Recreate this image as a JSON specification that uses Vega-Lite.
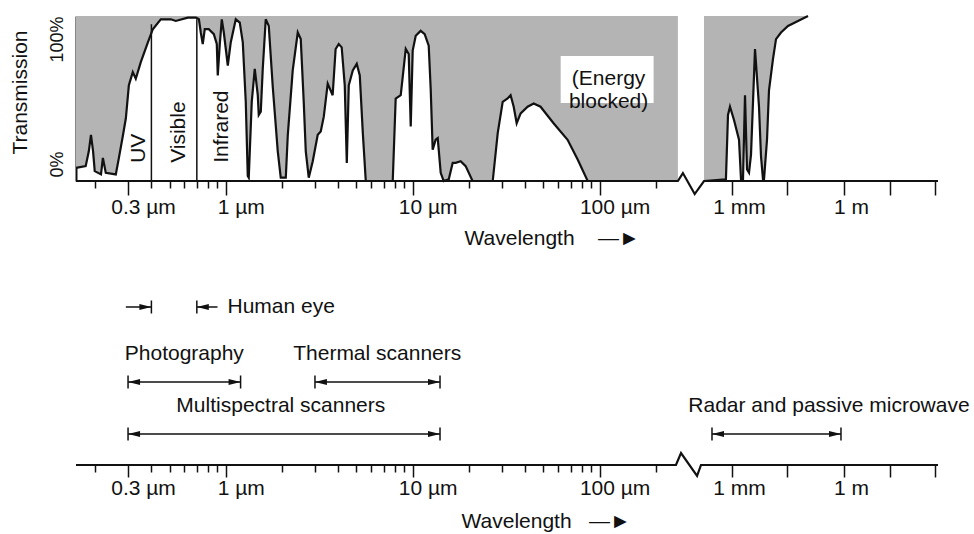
{
  "$schema": "https://vega.github.io/schema/vega-lite/v6.json",
  "padding": {"left": 9, "top": 11, "right": 5, "bottom": 5},
  "bounds": "flush",
  "spacing": 20,
  "background": "white",
  "config": {
    "font": "Liberation Sans",
    "view": {"stroke": null},
    "axis": {"grid": false, "labelColor": "#111", "titleColor": "#111", "titleFontWeight": "normal", "labelFont": "Liberation Sans", "titleFont": "Liberation Sans"},
    "text": {"font": "Liberation Sans", "fontSize": 21, "color": "#111"}
  },
  "resolve": {"scale": {"x": "independent"}},
  "datasets": {
    "curve": [
      {"seg": "a", "wl": 0.158, "t": 8}, {"seg": "a", "wl": 0.178, "t": 9}, {"seg": "a", "wl": 0.185, "t": 18}, {"seg": "a", "wl": 0.19, "t": 28},
      {"seg": "a", "wl": 0.195, "t": 18}, {"seg": "a", "wl": 0.199, "t": 6}, {"seg": "a", "wl": 0.215, "t": 4}, {"seg": "a", "wl": 0.22, "t": 14},
      {"seg": "a", "wl": 0.228, "t": 5}, {"seg": "a", "wl": 0.258, "t": 4}, {"seg": "a", "wl": 0.268, "t": 14}, {"seg": "a", "wl": 0.281, "t": 27},
      {"seg": "a", "wl": 0.292, "t": 38}, {"seg": "a", "wl": 0.303, "t": 58}, {"seg": "a", "wl": 0.318, "t": 66}, {"seg": "a", "wl": 0.33, "t": 62},
      {"seg": "a", "wl": 0.351, "t": 72}, {"seg": "a", "wl": 0.383, "t": 84}, {"seg": "a", "wl": 0.407, "t": 92}, {"seg": "a", "wl": 0.449, "t": 98},
      {"seg": "a", "wl": 0.508, "t": 98}, {"seg": "a", "wl": 0.54, "t": 97}, {"seg": "a", "wl": 0.626, "t": 99}, {"seg": "a", "wl": 0.692, "t": 99},
      {"seg": "a", "wl": 0.718, "t": 98}, {"seg": "a", "wl": 0.735, "t": 90}, {"seg": "a", "wl": 0.753, "t": 83}, {"seg": "a", "wl": 0.772, "t": 92},
      {"seg": "a", "wl": 0.811, "t": 92}, {"seg": "a", "wl": 0.863, "t": 89}, {"seg": "a", "wl": 0.895, "t": 83}, {"seg": "a", "wl": 0.906, "t": 64},
      {"seg": "a", "wl": 0.929, "t": 83}, {"seg": "a", "wl": 0.952, "t": 98}, {"seg": "a", "wl": 0.976, "t": 90}, {"seg": "a", "wl": 1.025, "t": 70},
      {"seg": "a", "wl": 1.063, "t": 84}, {"seg": "a", "wl": 1.131, "t": 98}, {"seg": "a", "wl": 1.188, "t": 96}, {"seg": "a", "wl": 1.233, "t": 84},
      {"seg": "a", "wl": 1.279, "t": 48}, {"seg": "a", "wl": 1.311, "t": 3}, {"seg": "a", "wl": 1.327, "t": 2}, {"seg": "a", "wl": 1.377, "t": 48},
      {"seg": "a", "wl": 1.429, "t": 68}, {"seg": "a", "wl": 1.483, "t": 52}, {"seg": "a", "wl": 1.501, "t": 40}, {"seg": "a", "wl": 1.539, "t": 42},
      {"seg": "a", "wl": 1.577, "t": 68}, {"seg": "a", "wl": 1.636, "t": 98}, {"seg": "a", "wl": 1.698, "t": 94}, {"seg": "a", "wl": 1.784, "t": 57},
      {"seg": "a", "wl": 1.897, "t": 18}, {"seg": "a", "wl": 1.968, "t": 2}, {"seg": "a", "wl": 2.094, "t": 2}, {"seg": "a", "wl": 2.147, "t": 28},
      {"seg": "a", "wl": 2.281, "t": 67}, {"seg": "a", "wl": 2.427, "t": 90}, {"seg": "a", "wl": 2.518, "t": 86}, {"seg": "a", "wl": 2.612, "t": 48},
      {"seg": "a", "wl": 2.679, "t": 18}, {"seg": "a", "wl": 2.779, "t": 2}, {"seg": "a", "wl": 2.919, "t": 12}, {"seg": "a", "wl": 3.104, "t": 28},
      {"seg": "a", "wl": 3.221, "t": 30}, {"seg": "a", "wl": 3.344, "t": 39}, {"seg": "a", "wl": 3.51, "t": 59}, {"seg": "a", "wl": 3.73, "t": 52},
      {"seg": "a", "wl": 3.87, "t": 80}, {"seg": "a", "wl": 4.02, "t": 83}, {"seg": "a", "wl": 4.17, "t": 81}, {"seg": "a", "wl": 4.33, "t": 58},
      {"seg": "a", "wl": 4.44, "t": 11}, {"seg": "a", "wl": 4.55, "t": 58}, {"seg": "a", "wl": 4.78, "t": 67}, {"seg": "a", "wl": 5.02, "t": 71},
      {"seg": "a", "wl": 5.21, "t": 64}, {"seg": "a", "wl": 5.41, "t": 29}, {"seg": "a", "wl": 5.61, "t": 0}, {"seg": "a", "wl": 7.82, "t": 0},
      {"seg": "a", "wl": 8.11, "t": 50}, {"seg": "a", "wl": 8.63, "t": 52}, {"seg": "a", "wl": 9.18, "t": 80}, {"seg": "a", "wl": 9.52, "t": 77},
      {"seg": "a", "wl": 9.76, "t": 33}, {"seg": "a", "wl": 10.0, "t": 79}, {"seg": "a", "wl": 10.38, "t": 88}, {"seg": "a", "wl": 11.03, "t": 91},
      {"seg": "a", "wl": 11.59, "t": 89}, {"seg": "a", "wl": 12.18, "t": 82}, {"seg": "a", "wl": 12.48, "t": 56}, {"seg": "a", "wl": 12.79, "t": 19},
      {"seg": "a", "wl": 13.27, "t": 25}, {"seg": "a", "wl": 13.61, "t": 26}, {"seg": "a", "wl": 14.12, "t": 5}, {"seg": "a", "wl": 14.65, "t": 0},
      {"seg": "a", "wl": 15.59, "t": 1}, {"seg": "a", "wl": 16.37, "t": 11}, {"seg": "a", "wl": 16.98, "t": 11}, {"seg": "a", "wl": 18.06, "t": 12},
      {"seg": "a", "wl": 19.2, "t": 9}, {"seg": "a", "wl": 20.9, "t": 0}, {"seg": "a", "wl": 26.8, "t": 0}, {"seg": "a", "wl": 28.5, "t": 29},
      {"seg": "a", "wl": 30.3, "t": 48}, {"seg": "a", "wl": 32.2, "t": 50}, {"seg": "a", "wl": 33.4, "t": 52}, {"seg": "a", "wl": 34.7, "t": 45},
      {"seg": "a", "wl": 36.0, "t": 35}, {"seg": "a", "wl": 37.8, "t": 41}, {"seg": "a", "wl": 41.2, "t": 45}, {"seg": "a", "wl": 44.4, "t": 47},
      {"seg": "a", "wl": 48.3, "t": 45}, {"seg": "a", "wl": 56.7, "t": 35}, {"seg": "a", "wl": 67.4, "t": 25}, {"seg": "a", "wl": 76.3, "t": 13},
      {"seg": "a", "wl": 86.3, "t": 0}, {"seg": "a", "wl": 256, "t": 0},
      {"seg": "b", "wl": 300, "t": 0}, {"seg": "b", "wl": 770, "t": 1}, {"seg": "b", "wl": 842, "t": 40}, {"seg": "b", "wl": 917, "t": 45},
      {"seg": "b", "wl": 1131, "t": 37}, {"seg": "b", "wl": 1540, "t": 25}, {"seg": "b", "wl": 1742, "t": 1}, {"seg": "b", "wl": 1971, "t": 1},
      {"seg": "b", "wl": 2230, "t": 52}, {"seg": "b", "wl": 2523, "t": 7}, {"seg": "b", "wl": 2854, "t": 5}, {"seg": "b", "wl": 3229, "t": 16},
      {"seg": "b", "wl": 4132, "t": 80}, {"seg": "b", "wl": 5287, "t": 45}, {"seg": "b", "wl": 5980, "t": 15}, {"seg": "b", "wl": 6766, "t": 1},
      {"seg": "b", "wl": 7197, "t": 1}, {"seg": "b", "wl": 8660, "t": 25}, {"seg": "b", "wl": 9796, "t": 55}, {"seg": "b", "wl": 12540, "t": 74},
      {"seg": "b", "wl": 15090, "t": 86}, {"seg": "b", "wl": 20540, "t": 90}, {"seg": "b", "wl": 31620, "t": 94}, {"seg": "b", "wl": 58580, "t": 97},
      {"seg": "b", "wl": 108600, "t": 100}
    ],
    "base1": [
      {"wl": 0.158, "t": 0}, {"wl": 256, "t": 0}, {"wl": 263.9, "t": 4.8}, {"wl": 283.5, "t": -7.9}, {"wl": 300, "t": 0}, {"wl": 1000000000, "t": 0}
    ],
    "bands": [{"wl": 0.4, "top": 95}, {"wl": 0.7, "top": 98}],
    "regions": [
      {"label": "UV", "wl": 0.343, "t": 11}, {"label": "Visible", "wl": 0.561, "t": 11}, {"label": "Infrared", "wl": 0.952, "t": 11}
    ],
    "box": [{"x1": 61.9, "x2": 194.5, "y1": 47.3, "y2": 75.8}],
    "note": [{"label": "(Energy\nblocked)", "wl": 111.7, "t": 62}],
    "eye": [
      {"row": "Human eye", "lo": 0.292, "hi": 0.4, "cap": 0.4, "dir": "right", "label": ""},
      {"row": "Human eye", "lo": 0.7, "hi": 0.903, "cap": 0.7, "dir": "left", "label": "Human eye"}
    ],
    "sensors": [
      {"name": "Photography", "tier": "upper", "lo": 0.3, "hi": 1.2, "mid": 0.6},
      {"name": "Thermal scanners", "tier": "upper", "lo": 3, "hi": 14, "mid": 6.46},
      {"name": "Multispectral scanners", "tier": "lower", "lo": 0.3, "hi": 14, "mid": 1.97},
      {"name": "Radar and passive microwave", "tier": "lower", "lo": 423, "hi": 830000, "mid": 396000}
    ],
    "base2": [
      {"wl": 0.158, "z": 0}, {"wl": 253, "z": 0}, {"wl": 260.9, "z": 1}, {"wl": 287.6, "z": -0.92}, {"wl": 294.6, "z": 0}, {"wl": 1000000000, "z": 0}
    ]
  },
  "vconcat": [
    {
      "width": 862,
      "height": 165,
      "layer": [
        {
          "data": {"name": "curve"},
          "mark": {"type": "area", "color": "#b4b4b4", "opacity": 1},
          "encoding": {
            "x": {
              "field": "wl", "type": "quantitative",
              "scale": {"type": "log", "domain": [0.158, 250, 300, 1000, 1000000, 1000000000], "range": [0, 598, 628, 656, 768, 862], "nice": false},
              "axis": {
                "values": [0.2, 0.3, 0.4, 0.5, 0.6, 0.7, 0.8, 0.9, 1, 2, 3, 4, 5, 6, 7, 8, 9, 10, 20, 30, 40, 50, 60, 70, 80, 90, 100, 200, 1000, 30000, 1000000, 30000000, 800000000],
                "domain": false,
                "tickColor": "#111",
                "tickWidth": 1.5,
                "tickSize": {"condition": {"test": "indexof([0.3,1,10,100,1000,30000,1000000,30000000,800000000], datum.value) >= 0", "value": 14}, "value": 7},
                "labelExpr": "datum.value == 0.3 ? '0.3 µm' : datum.value == 1 ? '1 µm' : datum.value == 10 ? '10 µm' : datum.value == 100 ? '100 µm' : datum.value == 1000 ? '1 mm' : datum.value == 1000000 ? '1 m' : ''",
                "labelFontSize": 21,
                "labelPadding": 1,
                "labelOverlap": false,
                "labelFlush": false,
                "labelAlign": "center",
                "labelOffset": {"condition": {"test": "datum.value >= 1000", "value": 7}, "value": 15},
                "title": "Wavelength\u00a0\u00a0\u00a0 —►",
                "titleFontSize": 21,
                "titleX": 388,
                "titleY": 57,
                "titleAlign": "left",
                "titleBaseline": "middle"
              }
            },
            "y": {
              "field": "t", "type": "quantitative",
              "scale": {"domain": [0, 100], "nice": false},
              "axis": {
                "values": [0, 100],
                "labelExpr": "datum.value + '%'",
                "ticks": false,
                "domain": true,
                "domainColor": "#111",
                "domainWidth": 2,
                "labelAngle": 270,
                "labelFontSize": 18,
                "labelBaseline": "bottom",
                "labelAlign": {"condition": {"test": "datum.value > 50", "value": "right"}, "value": "left"},
                "labelOffset": {"condition": {"test": "datum.value > 50", "value": 0}, "value": -4},
                "labelPadding": 10,
                "title": "Transmission",
                "titleFontSize": 21,
                "titleX": -56,
                "titleY": 76,
                "titleAngle": 270,
                "titleAlign": "center",
                "titleBaseline": "middle"
              }
            },
            "y2": {"datum": 100},
            "detail": {"field": "seg", "type": "nominal"}
          }
        },
        {
          "data": {"name": "box"},
          "mark": {"type": "rect", "color": "white", "opacity": 1},
          "encoding": {
            "x": {"field": "x1", "type": "quantitative"},
            "x2": {"field": "x2"},
            "y": {"field": "y1", "type": "quantitative"},
            "y2": {"field": "y2"}
          }
        },
        {
          "data": {"name": "curve"},
          "mark": {"type": "line", "color": "#111", "strokeWidth": 2.2},
          "encoding": {
            "x": {"field": "wl", "type": "quantitative"},
            "y": {"field": "t", "type": "quantitative"},
            "detail": {"field": "seg", "type": "nominal"}
          }
        },
        {
          "data": {"name": "base1"},
          "mark": {"type": "line", "color": "#111", "strokeWidth": 2.2},
          "encoding": {
            "x": {"field": "wl", "type": "quantitative"},
            "y": {"field": "t", "type": "quantitative"}
          }
        },
        {
          "data": {"name": "bands"},
          "mark": {"type": "rule", "color": "#111", "strokeWidth": 1.5},
          "encoding": {
            "x": {"field": "wl", "type": "quantitative"},
            "y": {"field": "top", "type": "quantitative"},
            "y2": {"datum": 0}
          }
        },
        {
          "data": {"name": "regions"},
          "mark": {"type": "text", "angle": 270, "align": "left", "baseline": "middle", "fontSize": 21},
          "encoding": {
            "x": {"field": "wl", "type": "quantitative"},
            "y": {"field": "t", "type": "quantitative"},
            "text": {"field": "label", "type": "nominal"}
          }
        },
        {
          "data": {"name": "note"},
          "mark": {"type": "text", "align": "center", "baseline": "middle", "lineBreak": "\n", "lineHeight": 23, "fontSize": 21},
          "encoding": {
            "x": {"field": "wl", "type": "quantitative"},
            "y": {"field": "t", "type": "quantitative"},
            "text": {"field": "label", "type": "nominal"}
          }
        }
      ]
    },
    {
      "width": 862,
      "height": 113,
      "data": {"name": "eye"},
      "encoding": {
        "y": {"field": "row", "type": "nominal", "scale": {"type": "point", "align": 0.938}, "axis": null}
      },
      "layer": [
        {
          "mark": {"type": "rule", "color": "#111", "strokeWidth": 1.5},
          "encoding": {
            "x": {"field": "lo", "type": "quantitative", "scale": {"type": "log", "domain": [0.158, 250, 300, 1000, 1000000, 1000000000], "range": [0, 598, 628, 656, 768, 862], "nice": false}, "axis": null},
            "x2": {"field": "hi"}
          }
        },
        {
          "mark": {"type": "tick", "orient": "vertical", "color": "#111", "thickness": 1.5, "size": 13, "opacity": 1},
          "encoding": {"x": {"field": "cap", "type": "quantitative"}}
        },
        {
          "mark": {"type": "point", "filled": true, "size": 144, "opacity": 1, "color": "#111", "strokeWidth": 0},
          "encoding": {
            "x": {"field": "cap", "type": "quantitative"},
            "shape": {"field": "dir", "type": "nominal", "scale": {"domain": ["left", "right"], "range": ["M0,0L2,-0.5L2,0.5Z", "M0,0L-2,-0.5L-2,0.5Z"]}, "legend": null}
          }
        },
        {
          "mark": {"type": "text", "align": "left", "baseline": "middle", "dx": 10, "fontSize": 21},
          "encoding": {
            "x": {"field": "hi", "type": "quantitative"},
            "text": {"field": "label", "type": "nominal"}
          }
        }
      ]
    },
    {
      "width": 862,
      "height": 131,
      "resolve": {"scale": {"y": "independent"}},
      "layer": [
        {
          "data": {"name": "base2"},
          "mark": {"type": "line", "color": "#111", "strokeWidth": 2.2},
          "encoding": {
            "x": {
              "field": "wl", "type": "quantitative",
              "scale": {"type": "log", "domain": [0.158, 250, 300, 1000, 1000000, 1000000000], "range": [0, 598, 628, 656, 768, 862], "nice": false},
              "axis": {
                "values": [0.2, 0.3, 0.4, 0.5, 0.6, 0.7, 0.8, 0.9, 1, 2, 3, 4, 5, 6, 7, 8, 9, 10, 20, 30, 40, 50, 60, 70, 80, 90, 100, 200, 1000, 30000, 1000000, 30000000, 800000000],
                "domain": false,
                "tickColor": "#111",
                "tickWidth": 1.5,
                "tickSize": {"condition": {"test": "indexof([0.3,1,10,100,1000,30000,1000000,30000000,800000000], datum.value) >= 0", "value": 12}, "value": 7},
                "labelExpr": "datum.value == 0.3 ? '0.3 µm' : datum.value == 1 ? '1 µm' : datum.value == 10 ? '10 µm' : datum.value == 100 ? '100 µm' : datum.value == 1000 ? '1 mm' : datum.value == 1000000 ? '1 m' : ''",
                "labelFontSize": 21,
                "labelPadding": 0,
                "labelOverlap": false,
                "labelFlush": false,
                "labelAlign": "center",
                "labelOffset": {"condition": {"test": "datum.value >= 1000", "value": 7}, "value": 15},
                "title": "Wavelength\u00a0\u00a0 —►",
                "titleFontSize": 21,
                "titleX": 385,
                "titleY": 56,
                "titleAlign": "left",
                "titleBaseline": "middle"
              }
            },
            "y": {"field": "z", "type": "quantitative", "scale": {"domain": [0, 11], "nice": false}, "axis": null}
          }
        },
        {
          "data": {"name": "sensors"},
          "encoding": {
            "y": {"field": "tier", "type": "nominal", "sort": ["upper", "lower"], "scale": {"type": "point", "padding": 0.7596, "align": 0.6076}, "axis": null}
          },
          "layer": [
            {
              "mark": {"type": "rule", "color": "#111", "strokeWidth": 1.5},
              "encoding": {"x": {"field": "lo", "type": "quantitative"}, "x2": {"field": "hi"}}
            },
            {
              "mark": {"type": "tick", "orient": "vertical", "color": "#111", "thickness": 1.5, "size": 13, "opacity": 1},
              "encoding": {"x": {"field": "lo", "type": "quantitative"}}
            },
            {
              "mark": {"type": "tick", "orient": "vertical", "color": "#111", "thickness": 1.5, "size": 13, "opacity": 1},
              "encoding": {"x": {"field": "hi", "type": "quantitative"}}
            },
            {
              "mark": {"type": "point", "shape": "M0,0L2,-0.5L2,0.5Z", "filled": true, "size": 144, "opacity": 1, "color": "#111", "strokeWidth": 0},
              "encoding": {"x": {"field": "lo", "type": "quantitative"}}
            },
            {
              "mark": {"type": "point", "shape": "M0,0L-2,-0.5L-2,0.5Z", "filled": true, "size": 144, "opacity": 1, "color": "#111", "strokeWidth": 0},
              "encoding": {"x": {"field": "hi", "type": "quantitative"}}
            },
            {
              "mark": {"type": "text", "align": "center", "baseline": "middle", "dy": -28, "fontSize": 21},
              "encoding": {"x": {"field": "mid", "type": "quantitative"}, "text": {"field": "name", "type": "nominal"}}
            }
          ]
        }
      ]
    }
  ]
}
